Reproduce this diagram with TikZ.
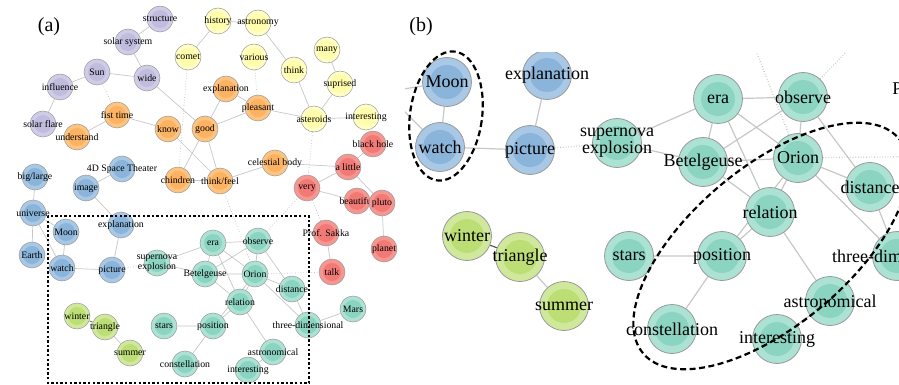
\documentclass[tikz,border=0pt]{standalone}
\usepackage{fontspec}
\setmainfont{Liberation Serif}
\usepackage{tikz}
\usetikzlibrary{positioning}
\pgfdeclarelayer{back}
\pgfsetlayers{back,main}
\definecolor{bluO}{RGB}{168,200,230}
\definecolor{bluI}{RGB}{138,180,218}
\definecolor{teaO}{RGB}{172,226,212}
\definecolor{teaI}{RGB}{140,212,194}
\definecolor{grnO}{RGB}{208,232,156}
\definecolor{grnI}{RGB}{188,222,116}
\definecolor{yelO}{RGB}{255,255,196}
\definecolor{yelI}{RGB}{255,252,170}
\definecolor{orgO}{RGB}{253,196,128}
\definecolor{orgI}{RGB}{251,178,98}
\definecolor{redO}{RGB}{246,150,144}
\definecolor{redI}{RGB}{241,122,118}
\definecolor{purO}{RGB}{208,204,232}
\definecolor{purI}{RGB}{192,188,222}

\begin{document}
\begin{tikzpicture}[x=1pt, y=-1pt,
    bub/.style={circle, draw=black!40, line width=0.5pt, inner sep=0pt, minimum size=26pt},
    big/.style={minimum size=49pt, line width=0.8pt},
    tone/.style 2 args={fill=#1,
      path picture={\fill[#2] (path picture bounding box.center) circle (\inrad);}},
    blu/.style={tone={bluO}{bluI}},
    tea/.style={tone={teaO}{teaI}},
    grn/.style={tone={grnO}{grnI}},
    yel/.style={tone={yelO}{yelI}},
    org/.style={tone={orgO}{orgI}},
    rd/.style={tone={redO}{redI}},
    pur/.style={tone={purO}{purI}},
    lab/.style={font=\fontsize{9.8}{7}\selectfont, align=center, inner sep=0pt},
    labb/.style={font=\fontsize{18}{13}\selectfont, align=center, inner sep=0pt},
    conn/.style={draw=black!22, line width=0.7pt},
    faint/.style={draw=black!25, line width=0.7pt, dotted},
    dark/.style={draw=black!65, line width=0.7pt},
    ring/.style={line width=2.2pt, dash pattern=on 6pt off 3.5pt}]
  \useasboundingbox (0,0) rectangle (899,385);
  \def\inrad{9pt}

  % PANEL (a)

  \node[font=\fontsize{20}{20}\selectfont] (tagA) at (49,27) {(a)};

  % purple
  \node[bub, pur, label={[lab]center:structure}] (aStructure) at (160,19) {};
  \node[bub, pur, label={[lab]center:solar system}] (aSolarsystem) at (128,42) {};
  \node[bub, pur, label={[lab]center:Sun}] (aSun) at (97,72) {};
  \node[bub, pur, label={[lab]center:wide}] (aWide) at (147,78) {};
  \node[bub, pur, label={[lab]center:influence}] (aInfluence) at (60,87) {};
  \node[bub, pur, label={[lab]center:solar flare}] (aSolarflare) at (43,124) {};

  % yellow
  \node[bub, yel, label={[lab]center:comet}] (aComet) at (188,57) {};
  \node[bub, yel, label={[lab]center:history}] (aHistory) at (218,21) {};
  \node[bub, yel, label={[lab]center:astronomy}] (aAstronomy) at (258,23) {};
  \node[bub, yel, label={[lab]center:various}] (aVarious) at (254,57) {};
  \node[bub, yel, label={[lab]center:think}] (aThink) at (294,70) {};
  \node[bub, yel, label={[lab]center:many}] (aMany) at (327,50) {};
  \node[bub, yel, label={[lab]center:suprised}] (aSuprised) at (340,84) {};
  \node[bub, yel, label={[lab]center:asteroids}] (aAsteroids) at (314,119) {};
  \node[bub, yel, label={[lab]center:interesting}] (aInteresting) at (366,117) {};

  % orange
  \node[bub, org, label={[lab]center:fist time}] (aFisttime) at (117,115) {};
  \node[bub, org, label={[lab]center:understand}] (aUnderstand) at (77,137) {};
  \node[bub, org, label={[lab]center:know}] (aKnow) at (168,129) {};
  \node[bub, org, label={[lab]center:good}] (aGood) at (205,129) {};
  \node[bub, org, label={[lab]center:explanation}] (aExplanation) at (226,89) {};
  \node[bub, org, label={[lab]center:pleasant}] (aPleasant) at (258,108) {};
  \node[bub, org, label={[lab]center:chindren}] (aChindren) at (178,180) {};
  \node[bub, org, label={[lab]center:think/feel}] (aThinkfeel) at (220,181) {};
  \node[bub, org, label={[lab]center:celestial body}] (aCelestial) at (275,163) {};

  % red
  \node[bub, rd, label={[lab]center:black hole}] (aBlackhole) at (373,144) {};
  \node[bub, rd, label={[lab]center:a little}] (aAlittle) at (348,167) {};
  \node[bub, rd, label={[lab]center:very}] (aVery) at (307,188) {};
  \node[bub, rd, label={[lab]center:beautiful}] (aBeautiful) at (357,201) {};
  \node[bub, rd, label={[lab]center:pluto}] (aPluto) at (382,203) {};
  \node[bub, rd, label={[lab]center:Prof. Sakka}] (aSakka) at (326,233) {};
  \node[bub, rd, label={[lab]center:planet}] (aPlanet) at (384,249) {};
  \node[bub, rd, label={[lab]center:talk}] (aTalk) at (332,272) {};

  % blue
  \node[bub, blu, label={[lab]center:big/large}] (aBiglarge) at (35,177) {};
  \node[bub, blu, label={[lab]center:4D Space Theater}] (aTheater) at (122,169) {};
  \node[bub, blu, label={[lab]center:image}] (aImage) at (86,188) {};
  \node[bub, blu, label={[lab]center:universe}] (aUniverse) at (33,213) {};
  \node[bub, blu, label={[lab]center:explanation}] (aExplan) at (121,225) {};
  \node[bub, blu, label={[lab]center:Moon}] (aMoon) at (66,232) {};
  \node[bub, blu, label={[lab]center:Earth}] (aEarth) at (32,255) {};
  \node[bub, blu, label={[lab]center:watch}] (aWatch) at (62,268) {};
  \node[bub, blu, label={[lab]center:picture}] (aPicture) at (112,270) {};

  % teal
  \node[bub, tea, label={[lab]center:{supernova\\explosion}}] (aSupernova) at (157,263) {};
  \node[bub, tea, label={[lab]center:era}] (aEra) at (213,243) {};
  \node[bub, tea, label={[lab]center:observe}] (aObserve) at (258,241) {};
  \node[bub, tea, label={[lab]center:Betelgeuse}] (aBetelgeuse) at (205,274) {};
  \node[bub, tea, label={[lab]center:Orion}] (aOrion) at (255,274) {};
  \node[bub, tea, label={[lab]center:distance}] (aDistance) at (292,289) {};
  \node[bub, tea, label={[lab]center:relation}] (aRelation) at (240,302) {};
  \node[bub, tea, label={[lab]center:position}] (aPosition) at (213,326) {};
  \node[bub, tea, label={[lab]center:three-dimensional}] (aThreedim) at (308,325) {};
  \node[bub, tea, label={[lab]center:Mars}] (aMars) at (353,309) {};
  \node[bub, tea, label={[lab]center:stars}] (aStars) at (164,326) {};
  \node[bub, tea, label={[lab]center:astronomical}] (aAstronomical) at (273,352) {};
  \node[bub, tea, label={[lab]center:interesting}] (aInter) at (248,370) {};
  \node[bub, tea, label={[lab]center:constellation}] (aConstellation) at (185,364) {};

  % green
  \node[bub, grn, label={[lab]center:winter}] (aWinter) at (77,316) {};
  \node[bub, grn, label={[lab]center:triangle}] (aTriangle) at (105,327) {};
  \node[bub, grn, label={[lab]center:summer}] (aSummer) at (130,353) {};

  \begin{pgfonlayer}{back}
    \draw[conn] (aStructure) -- (aSolarsystem) (aSolarsystem) -- (aWide)
      (aSun) -- (aWide) (aSun) -- (aInfluence) (aInfluence) -- (aSolarflare)
      (aWide) -- (aGood) (aFisttime) -- (aUnderstand) (aFisttime) -- (aKnow)
      (aKnow) -- (aThinkfeel) (aGood) -- (aChindren) (aGood) -- (aThinkfeel)
      (aChindren) -- (aThinkfeel) (aGood) -- (aExplanation) (aGood) -- (aPleasant)
      (aExplanation) -- (aPleasant) (aPleasant) -- (aAsteroids)
      (aHistory) -- (aAstronomy) (aHistory) -- (aComet) (aAstronomy) -- (aThink)
      (aThink) -- (aAsteroids) (aMany) -- (aSuprised) (aSuprised) -- (aAsteroids)
      (aAsteroids) -- (aInteresting) (aThinkfeel) -- (aCelestial)
      (aCelestial) -- (aAlittle) (aAlittle) -- (aBlackhole) (aAlittle) -- (aVery)
      (aAlittle) -- (aPluto) (aVery) -- (aBeautiful) (aBeautiful) -- (aPluto)
      (aPluto) -- (aPlanet) (aSakka) -- (aTalk)
      (aBiglarge) -- (aUniverse) (aUniverse) -- (aEarth) (aUniverse) -- (aMoon)
      (aUniverse) -- (aWatch) (aMoon) -- (aWatch) (aImage) -- (aTheater)
      (aImage) -- (aExplan) (aExplan) -- (aPicture) (aWatch) -- (aPicture)
      (aSupernova) -- (aEra) (aSupernova) -- (aBetelgeuse) (aEra) -- (aObserve)
      (aEra) -- (aBetelgeuse) (aEra) -- (aOrion) (aEra) -- (aRelation)
      (aObserve) -- (aBetelgeuse) (aObserve) -- (aOrion) (aObserve) -- (aDistance)
      (aBetelgeuse) -- (aOrion) (aBetelgeuse) -- (aRelation) (aOrion) -- (aRelation)
      (aOrion) -- (aDistance) (aOrion) -- (aThreedim) (aOrion) -- (aPosition)
      (aRelation) -- (aPosition) (aRelation) -- (aAstronomical)
      (aPosition) -- (aStars) (aPosition) -- (aConstellation)
      (aAstronomical) -- (aInter) (aDistance) -- (aThreedim) (aThreedim) -- (aMars)
      (aTriangle) -- (aSummer);
    \draw[faint] (aSun) -- (aFisttime) (aComet) -- (aChindren)
      (aVarious) -- (aPleasant) (aAsteroids) -- (aVery) (aVery) -- (aSakka)
      (aObserve) -- (aVery) (aThinkfeel) -- (aOrion) (aOrion) -- (aTalk)
      (aPicture) -- (aSupernova);
    \draw[dark] (aWinter) -- (aTriangle);
  \end{pgfonlayer}

  \draw[line width=2.4pt, dash pattern=on 2.4pt off 2.2pt] (48,216) rectangle (309,383);

  % PANEL (b)

  \node[font=\fontsize{20}{20}\selectfont] (tagB) at (421,27) {(b)};

  \begin{scope}
    \clip (405,53) rectangle (899,385);
    \def\inrad{17pt}
    \node[bub, big, blu, label={[labb]center:Moon}] (bMoon) at (447,82) {};
    \node[bub, big, blu, label={[labb]center:watch}] (bWatch) at (440,147) {};
    \node[bub, big, blu, label={[labb]center:explanation}] (bExplan) at (547,75) {};
    \node[bub, big, blu, label={[labb]center:picture}] (bPicture) at (530,150) {};
    \node[bub, big, tea, label={[labb]center:{supernova\\explosion}}] (bSupernova) at (617,143) {};
    \node[bub, big, tea, label={[labb]center:era}] (bEra) at (718,99) {};
    \node[bub, big, tea, label={[labb]center:observe}] (bObserve) at (803,97) {};
    \node[bub, big, tea, label={[labb]center:Betelgeuse}] (bBetelgeuse) at (703,162) {};
    \node[bub, big, tea, label={[labb]center:Orion}] (bOrion) at (798,158) {};
    \node[bub, big, tea, label={[labb]center:distance}] (bDistance) at (870,187) {};
    \node[bub, big, tea, label={[labb]center:relation}] (bRelation) at (770,212) {};
    \node[bub, big, tea, label={[labb]center:position}] (bPosition) at (722,256) {};
    \node[bub, big, tea, label={[labb]center:stars}] (bStars) at (629,256) {};
    \node[bub, big, tea, label={[labb]center:constellation}] (bConstellation) at (672,329) {};
    \node[bub, big, tea, label={[labb]center:interesting}] (bInter) at (777,339) {};
    \node[bub, big, tea, label={[labb]center:astronomical}] (bAstronomical) at (830,301) {};
    \node[bub, big, tea, label={[labb]center:three-dimensional}] (bThreedim) at (897,256) {};
    \node[bub, big, grn, label={[labb]center:winter}] (bWinter) at (467,236) {};
    \node[bub, big, grn, label={[labb]center:triangle}] (bTriangle) at (520,257) {};
    \node[bub, big, grn, label={[labb]center:summer}] (bSummer) at (564,306) {};
    \node[bub, big, rd, label={[labb]center:Prof. Sakka}] (bSakka) at (935,88) {};
    \coordinate (bUniv) at (385,92);
    \coordinate (bThinkfeel) at (740,10);
    \coordinate (bVery) at (886,10);
    \coordinate (bTalk) at (960,156);
    \coordinate (bMars) at (990,240);
  \end{scope}

  \begin{pgfonlayer}{back}
    \begin{scope}
      \clip (405,53) rectangle (899,385);
      \draw[conn, line width=1.2pt] (bUniv) -- (bMoon) (bUniv) -- (bWatch)
        (bMoon) -- (bWatch) (bWatch) -- (bPicture) (bExplan) -- (bPicture)
        (bSupernova) -- (bEra) (bSupernova) -- (bBetelgeuse) (bEra) -- (bObserve)
        (bEra) -- (bBetelgeuse) (bEra) -- (bOrion) (bEra) -- (bRelation)
        (bObserve) -- (bBetelgeuse) (bObserve) -- (bOrion) (bObserve) -- (bDistance)
        (bBetelgeuse) -- (bOrion) (bBetelgeuse) -- (bRelation) (bOrion) -- (bRelation)
        (bOrion) -- (bDistance) (bOrion) -- (bThreedim) (bOrion) -- (bPosition)
        (bRelation) -- (bPosition) (bRelation) -- (bAstronomical)
        (bPosition) -- (bStars) (bPosition) -- (bConstellation)
        (bAstronomical) -- (bInter) (bDistance) -- (bThreedim) (bThreedim) -- (bMars)
        (bTriangle) -- (bSummer);
      \draw[faint, line width=1.2pt] (bPicture) -- (bSupernova)
        (bOrion) -- (bThinkfeel) (bObserve) -- (bVery) (bOrion) -- (bTalk);
      \draw[dark, line width=1.2pt] (bWinter) -- (bTriangle);
    \end{scope}
  \end{pgfonlayer}

  % GROUPS
  \draw[ring, rotate around={-8:(446,116)}] (446,116) ellipse [x radius=36, y radius=65];
  \draw[ring, rotate around={40:(771,246)}] (771,246) ellipse [x radius=167, y radius=79];

\end{tikzpicture}
\end{document}
